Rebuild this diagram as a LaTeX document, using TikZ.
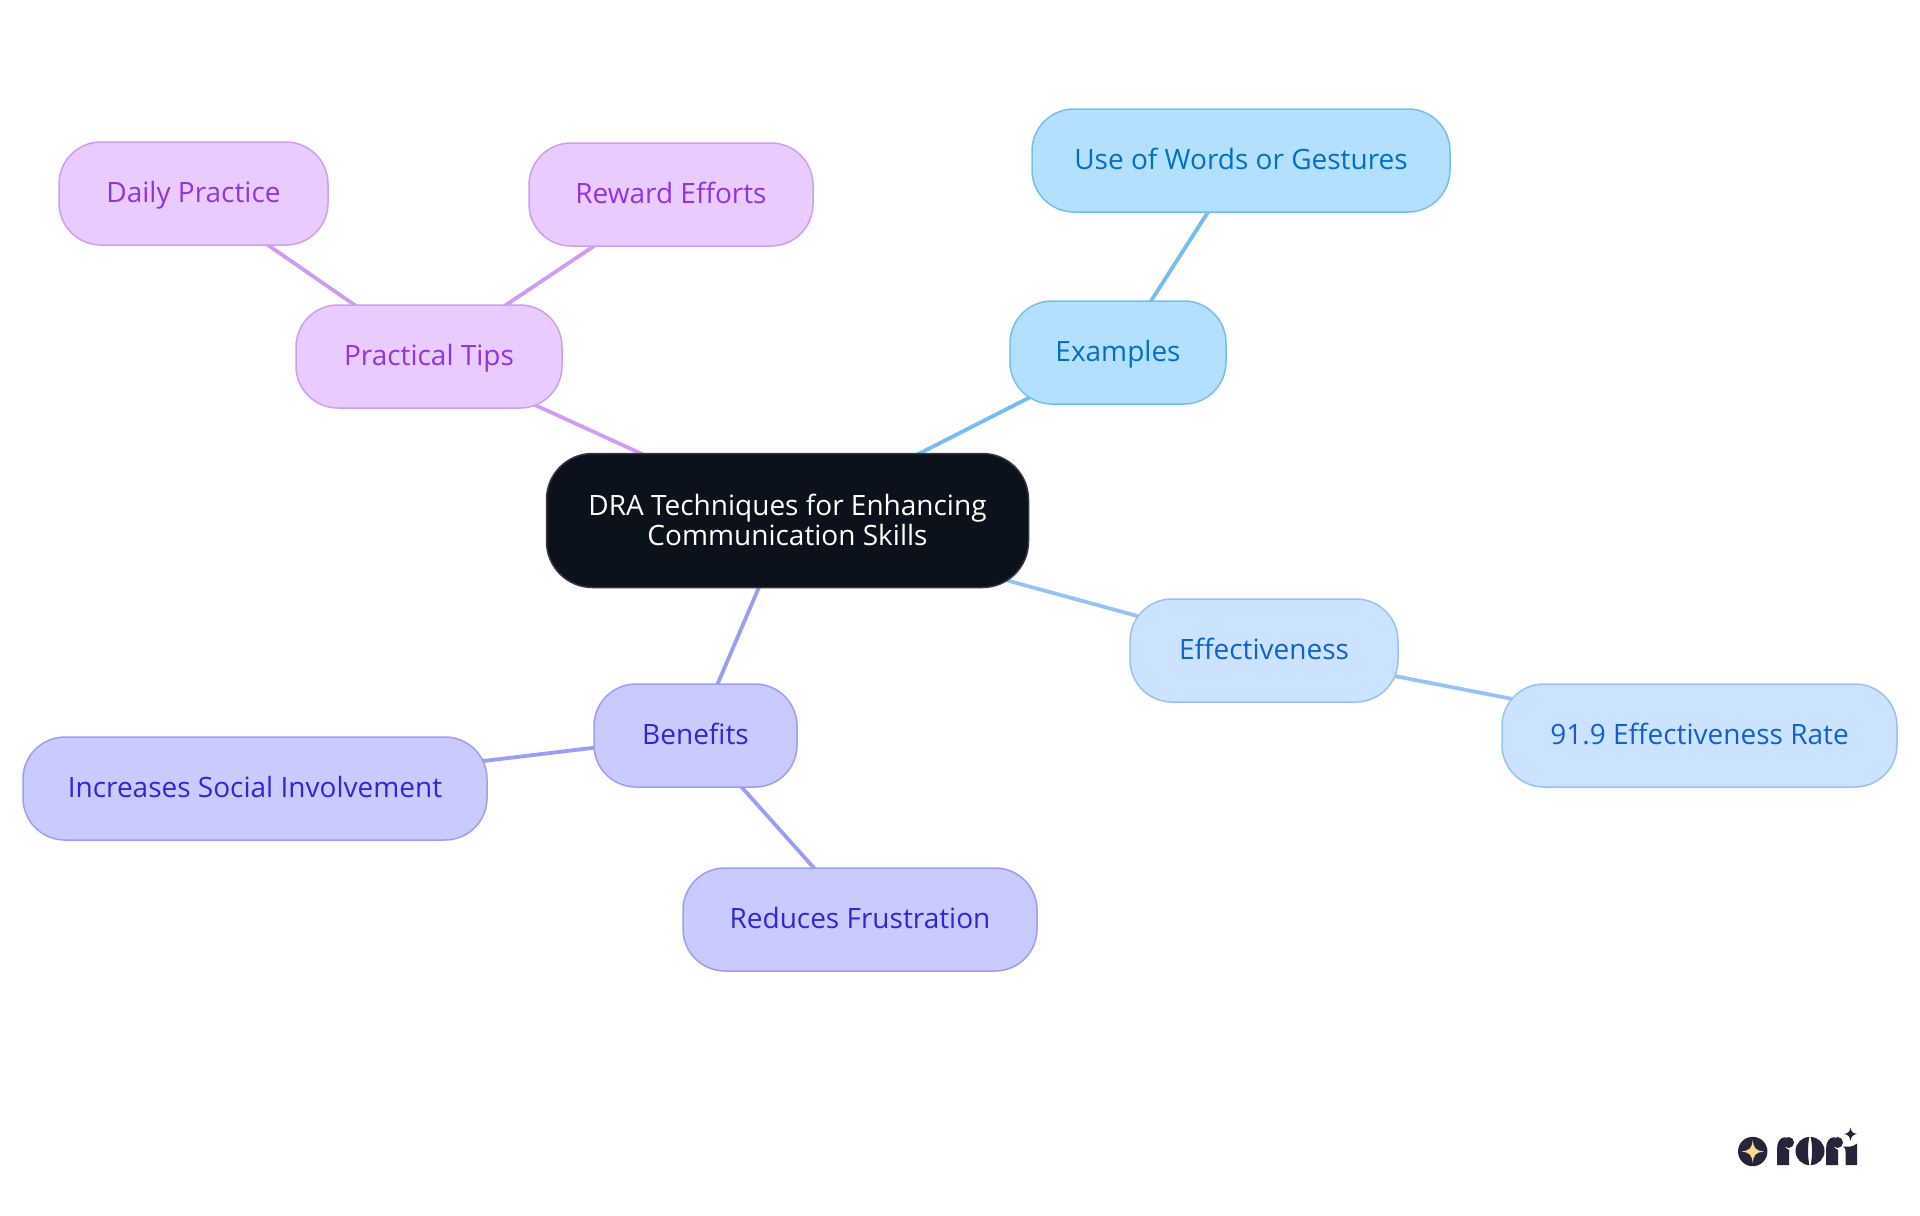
\documentclass[tikz,border=0pt]{standalone}
\usepackage{fontspec}
\setmainfont{Open Sans}
\usetikzlibrary{backgrounds}
\definecolor{pfill}{HTML}{E8CBFF}\definecolor{pline}{HTML}{CF9DF3}\definecolor{ptext}{HTML}{9333E0}
\definecolor{bfill}{HTML}{B4E0FF}\definecolor{bline}{HTML}{74BEF2}\definecolor{btext}{HTML}{0070C4}
\definecolor{lfill}{HTML}{CCE3FF}\definecolor{lline}{HTML}{96C3F5}\definecolor{ltext}{HTML}{0F62CC}
\definecolor{ifill}{HTML}{C9CBFF}\definecolor{iline}{HTML}{9B9EF5}\definecolor{itext}{HTML}{3026D6}
\definecolor{rootfill}{HTML}{0B121B}\definecolor{rootline}{HTML}{33383F}
\definecolor{logodark}{HTML}{25243A}\definecolor{logostar}{HTML}{FFD98A}
\tikzset{
 mm/.style={rounded corners=21pt,line width=0.75pt,inner sep=0pt,align=center,font=\fontsize{14}{15}\selectfont},
 leaf/.style={mm,minimum height=51.5pt,text height=12.8pt,text depth=3.4pt},
 pnode/.style={leaf,draw=pline,fill=pfill,text=ptext},
 bnode/.style={leaf,draw=bline,fill=bfill,text=btext},
 lnode/.style={leaf,draw=lline,fill=lfill,text=ltext},
 inode/.style={leaf,draw=iline,fill=ifill,text=itext},
 rootnode/.style={mm,draw=rootline,fill=rootfill,text=white,rounded corners=23pt},
 link/.style={line width=1.9pt}
}
\begin{document}
\begin{tikzpicture}[x=0.5pt,y=-0.5pt]
\useasboundingbox (0,0) rectangle (1920,1215);
\node[rootnode,minimum width=241pt,minimum height=67pt] (root) at (787.5,520.5) {\begin{tabular}{@{}c@{}}\rule{0pt}{14.2pt}DRA Techniques for Enhancing\\Communication Skills\end{tabular}};
\node[pnode,minimum width=134.5pt] (daily) at (193.5,193.5) {Daily Practice};
\node[pnode,minimum width=142pt] (reward) at (671,194.5) {Reward Efforts};
\node[pnode,minimum width=133pt] (tips) at (429,356.5) {Practical Tips};
\node[bnode,minimum width=209pt] (words) at (1241,160.5) {Use of Words or Gestures};
\node[bnode,minimum width=108pt] (examples) at (1118,352.5) {Examples};
\node[lnode,minimum width=134pt] (effect) at (1264,650.5) {Effectiveness};
\node[lnode,minimum width=197.5pt] (rate) at (1699.5,735.5) {91.9 Effectiveness Rate};
\node[inode,minimum width=101.5pt] (benefits) at (695.5,735.5) {Benefits};
\node[inode,minimum width=232pt] (social) at (255,788.5) {Increases Social Involvement};
\node[inode,minimum width=177pt] (frust) at (860,919.5) {Reduces Frustration};
\begin{pgfonlayer}{background}
\draw[link,pline] (root.center) -- (tips.center);
\draw[link,pline] (tips.center) -- (daily.center);
\draw[link,pline] (tips.center) -- (reward.center);
\draw[link,bline] (root.center) -- (examples.center);
\draw[link,bline] (examples.center) -- (words.center);
\draw[link,lline] (root.center) -- (effect.center);
\draw[link,lline] (effect.center) -- (rate.center);
\draw[link,iline] (root.center) -- (benefits.center);
\draw[link,iline] (benefits.center) -- (social.center);
\draw[link,iline] (benefits.center) -- (frust.center);
\end{pgfonlayer}
% logo
\fill[logodark] (1752.7,1151.5) circle[radius=14.7];
\fill[logostar] (1752.7,1140) .. controls (1753.7,1148) and (1755.2,1150.5) .. (1764,1151.5) .. controls (1755.2,1152.5) and (1753.7,1155) .. (1752.7,1163) .. controls (1751.7,1155) and (1750.2,1152.5) .. (1741.4,1151.5) .. controls (1750.2,1150.5) and (1751.7,1148) .. (1752.7,1140) -- cycle;
% r
\fill[logodark] (1777,1165) -- (1777,1149) .. controls (1777,1142) and (1780,1137) .. (1786,1137) .. controls (1783,1140) and (1782.5,1147) .. (1789,1150) -- (1789,1165) -- cycle;
\fill[logodark] (1788.5,1142.5) circle[radius=5.5];
% o
\fill[logodark] (1809.4,1137) .. controls (1801.7,1137) and (1795.5,1143.3) .. (1795.5,1151) .. controls (1795.5,1158.7) and (1801.7,1165) .. (1809.4,1165) .. controls (1807.5,1157) and (1807.5,1145) .. (1809.4,1137) -- cycle;
\fill[logodark] (1810.6,1137) .. controls (1818.3,1137) and (1824.5,1143.3) .. (1824.5,1151) .. controls (1824.5,1158.7) and (1818.3,1165) .. (1810.6,1165) .. controls (1812.5,1157) and (1812.5,1145) .. (1810.6,1137) -- cycle;
% r
\fill[logodark] (1826,1165) -- (1826,1149) .. controls (1826,1142) and (1829,1137) .. (1835,1137) .. controls (1832,1140) and (1831.5,1147) .. (1838,1150) -- (1838,1165) -- cycle;
\fill[logodark] (1837.5,1142.5) circle[radius=5.5];
% i
\fill[logodark] (1857,1143.5) -- (1857,1165) -- (1845.5,1165) -- (1845.5,1152) .. controls (1845.5,1148) and (1844,1147) .. (1842.5,1146.5) .. controls (1848,1147) and (1853,1147) .. (1857,1143.5) -- cycle;
\fill[logodark] (1850.5,1127.5) .. controls (1851.2,1131.5) and (1852.5,1133.3) .. (1857,1134) .. controls (1852.5,1134.7) and (1851.2,1136.5) .. (1850.5,1141) .. controls (1849.8,1136.5) and (1848.5,1134.7) .. (1844,1134) .. controls (1848.5,1133.3) and (1849.8,1131.5) .. (1850.5,1127.5) -- cycle;
\end{tikzpicture}
\end{document}
